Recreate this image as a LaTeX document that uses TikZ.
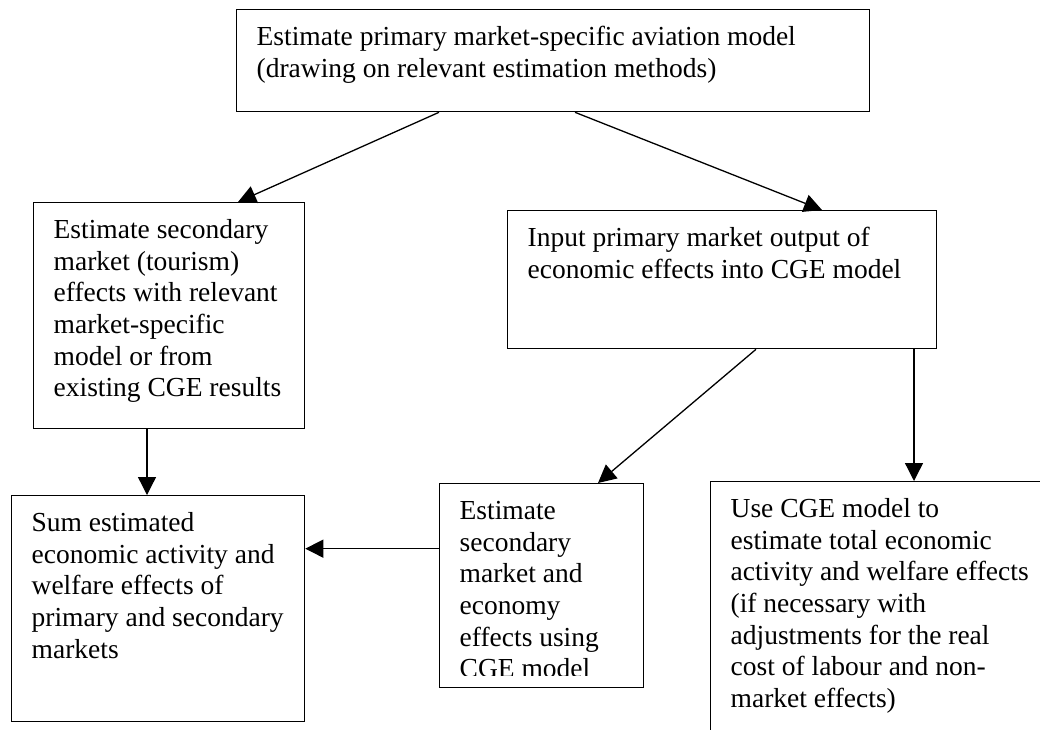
\documentclass[tikz,border=0pt]{standalone}
\usepackage{fontspec}
\setmainfont{Liberation Serif}
\usetikzlibrary{arrows.meta}

% box text: width, height, lines
\newcommand{\boxtext}[3]{\parbox[c][#2pt][t]{#1pt}{\begin{tabular}[t]{@{}l@{}}#3\end{tabular}}}

\begin{document}
\begin{tikzpicture}[x=1pt, y=-1pt, line width=1.3pt,
  font=\fontsize{27.5}{31.6}\selectfont,
  stepbox/.style={draw, anchor=north west, inner xsep=20pt, inner ysep=14pt},
  flow/.style={-{Triangle[length=18pt,width=18pt]}}]

  \useasboundingbox (0,0) rectangle (1040,729);
  \clip (0,0) rectangle (1040,729);

  % ════ boxes ════
  \node[stepbox] (top) at (236,9) {\boxtext{593}{74}{Estimate primary market-specific aviation model\\(drawing on relevant estimation methods)}};
  \node[stepbox] (sec) at (33,202) {\boxtext{231}{198}{Estimate secondary\\market (tourism)\\effects with relevant\\market-specific\\model or from\\existing CGE results}};
  \node[stepbox] (input) at (507,210) {\boxtext{389}{110}{Input primary market output of\\economic effects into CGE model}};
  \node[stepbox] (sum) at (11,495) {\boxtext{253}{198}{Sum estimated\\economic activity and\\welfare effects of\\primary and secondary\\markets}};
  \node[stepbox] (estcge) at (439,483) {\boxtext{164}{176}{Estimate\\secondary\\market and\\economy\\effects using\\CGE model}};
  \node[stepbox] (use) at (710,481) {\boxtext{310}{272}{Use CGE model to\\estimate total economic\\activity and welfare effects\\(if necessary with\\adjustments for the real\\cost of labour and non-\\market effects)}};

  % ⚠ last line of estcge is cut off in the original
  \fill[white] ([shift={(1,-1.5)}]estcge.south west) rectangle ([shift={(-1,-12)}]estcge.south east);

  % ════ arrows ════
  \draw[flow] ([xshift=203pt]top.south west) -- ([xshift=205pt]sec.north west);
  \draw[flow] ([xshift=339pt]top.south west) -- ([xshift=315pt]input.north west);
  \draw[flow] ([xshift=249pt]input.south west) -- ([xshift=159pt]estcge.north west);
  \draw[flow] ([xshift=407pt]input.south west) -- ([xshift=204pt]use.north west);
  \draw[flow] ([xshift=114pt]sec.south west) -- ([xshift=136pt]sum.north west);
  \draw[flow] ([yshift=37pt]estcge.west) -- ([yshift=60pt]sum.east);
\end{tikzpicture}
\end{document}
